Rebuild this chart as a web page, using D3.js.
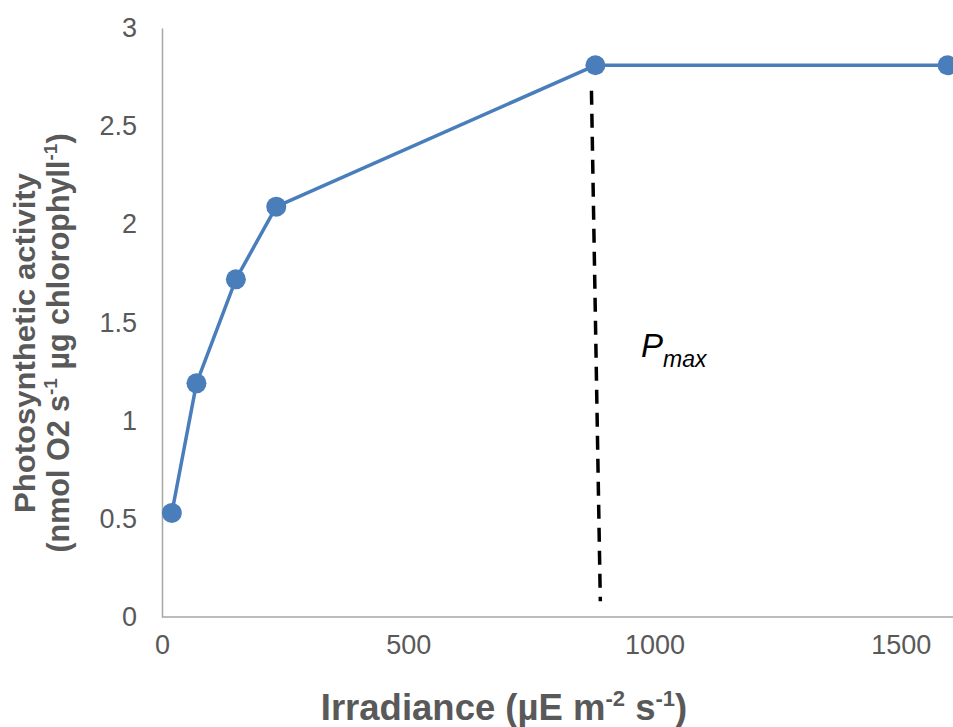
<!DOCTYPE html>
<html>
<head>
<meta charset="utf-8">
<script src="https://cdn.jsdelivr.net/npm/d3@7"></script>
<style>
  body { margin: 0; background: #fff; }
  svg text { font-family: "Liberation Sans", Arial, sans-serif; }
</style>
</head>
<body>
<div id="chart"></div>
<script>
'use strict';

// Data
const irradiance = [20, 70, 150, 232, 880, 1595];
const activity = [0.53, 1.19, 1.72, 2.09, 2.81, 2.81];

// Pmax guide (dashed), slightly tilted as in the picture
const pmaxX = [872, 890];
const pmaxY = [2.68, 0.08];

const xTicks = [0, 500, 1000, 1500];
const yTicks = [0, 0.5, 1, 1.5, 2, 2.5, 3];

const width = 953, height = 727;
const margins = { top: 28, right: 3, bottom: 110, left: 162 };

const svg = d3.select('#chart').append('svg')
    .attr('width', width)
    .attr('height', height);

const x = d3.scaleLinear()
    .domain([0, 1600])
    .range([margins.left, 950]);

const y = d3.scaleLinear()
    .domain([0, 3])
    .range([height - margins.bottom, margins.top]);

const axisColor = '#a6a6a6';
const textColor = '#595959';

// Axes
const axisX = svg.append('g')
    .attr('transform', `translate(0, ${y(0)})`)
    .call(d3.axisBottom(x).tickValues(xTicks).tickSize(0).tickPadding(18).tickFormat(d3.format('d')));

const axisY = svg.append('g')
    .attr('transform', `translate(${margins.left}, 0)`)
    .call(d3.axisLeft(y).tickValues(yTicks).tickSize(0).tickPadding(25).tickFormat(d => String(d)));

[axisX, axisY].forEach(a => {
    a.select('.domain').attr('stroke', axisColor).attr('stroke-width', 1.5);
    a.selectAll('text')
        .attr('fill', textColor)
        .style('font-size', '27px');
});
axisX.select('.domain').attr('d', `M${x(0)},0H${width}`);

// Pmax dashed line
svg.append('line')
    .attr('x1', x(pmaxX[0])).attr('y1', y(pmaxY[0]))
    .attr('x2', x(pmaxX[1])).attr('y2', y(pmaxY[1]))
    .attr('stroke', '#000')
    .attr('stroke-width', 3.5)
    .attr('stroke-dasharray', '14,9');

// Series line + markers
const line = d3.line()
    .x((d, i) => x(irradiance[i]))
    .y(d => y(d));

svg.append('path')
    .datum(activity)
    .attr('d', line)
    .attr('fill', 'none')
    .attr('stroke', '#4a7ebb')
    .attr('stroke-width', 3.5)
    .attr('stroke-linejoin', 'round');

svg.selectAll('circle.pt')
    .data(activity)
    .join('circle')
    .classed('pt', true)
    .attr('cx', (d, i) => x(irradiance[i]))
    .attr('cy', d => y(d))
    .attr('r', 10)
    .attr('fill', '#4a7ebb');

// Pmax label
const pmax = svg.append('text')
    .attr('x', 641)
    .attr('y', 357)
    .attr('fill', '#000')
    .style('font-style', 'italic')
    .style('font-size', '33px');
pmax.append('tspan').text('P');
pmax.append('tspan').attr('dy', 10).style('font-size', '23px').text('max');

// X axis title
const xTitle = svg.append('text')
    .attr('x', 504)
    .attr('y', 720)
    .attr('text-anchor', 'middle')
    .attr('fill', textColor)
    .style('font-weight', 'bold')
    .style('font-size', '36.5px');
xTitle.append('tspan').text('Irradiance (µE m');
xTitle.append('tspan').attr('dy', -14).style('font-size', '22px').text('-2');
xTitle.append('tspan').attr('dy', 14).text(' s');
xTitle.append('tspan').attr('dy', -14).style('font-size', '22px').text('-1');
xTitle.append('tspan').attr('dy', 14).text(')');

// Y axis title (two lines, rotated)
const yTitle = svg.append('g')
    .attr('transform', `translate(0, 343) rotate(-90)`);

yTitle.append('text')
    .attr('x', 0).attr('y', 35)
    .attr('text-anchor', 'middle')
    .attr('fill', textColor)
    .style('font-weight', 'bold')
    .style('font-size', '29px')
    .attr('textLength', 340)
    .attr('lengthAdjust', 'spacingAndGlyphs')
    .text('Photosynthetic  activity');

const yl2 = yTitle.append('text')
    .attr('x', 0).attr('y', 69)
    .attr('text-anchor', 'middle')
    .attr('fill', textColor)
    .style('font-weight', 'bold')
    .style('font-size', '30.5px');
yl2.append('tspan').text('(nmol O2 s');
yl2.append('tspan').attr('dy', -12).style('font-size', '19px').text('-1');
yl2.append('tspan').attr('dy', 12).text(' µg chlorophyll');
yl2.append('tspan').attr('dy', -12).style('font-size', '19px').text('-1');
yl2.append('tspan').attr('dy', 12).text(')');
</script>
</body>
</html>
